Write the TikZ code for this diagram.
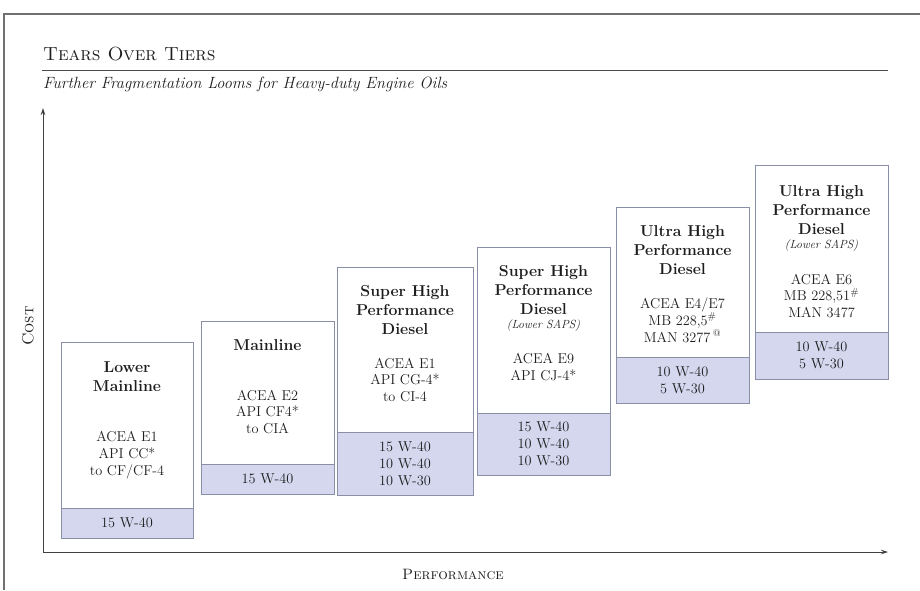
\documentclass[tikz,border=0pt]{standalone}
\usetikzlibrary{arrows.meta}
\definecolor{oilfill}{HTML}{D5D7EF}
\definecolor{edgecol}{HTML}{8A8FA8}
\definecolor{inkcol}{HTML}{1E1E1E}
\definecolor{framecol}{HTML}{707070}
\tikzset{
  tierbox/.style={draw=edgecol, line width=0.7pt, fill=white, inner sep=0pt, anchor=north west},
  oilbox/.style={draw=edgecol, line width=0.7pt, fill=oilfill, inner sep=0pt, anchor=north west},
  tiertitle/.style={text=inkcol, align=center, inner sep=0pt, font=\fontsize{15.8}{19.2}\selectfont\bfseries},
  saps/.style={text=inkcol, align=center, inner sep=0pt, font=\fontsize{11.8}{14}\selectfont\itshape},
  spec/.style={text=inkcol, align=center, inner sep=0pt, font=\fontsize{14.3}{16.8}\selectfont},
  axisline/.style={draw=inkcol!85, line width=0.8pt, -{Stealth[length=7pt,width=4.5pt]}},
  framerule/.style={draw=framecol, line width=1.2pt},
}
\begin{document}
\begin{tikzpicture}[x=1pt,y=-1pt]
\useasboundingbox (0,0) rectangle (920,590);
% frame
\coordinate (fl) at (4,590);
\coordinate (fc) at (4,14);
\coordinate (fr) at (920,14);
\draw[framerule] (fl) -- (fc) -- (fr);
% title
\node[anchor=base west, inner sep=0pt, text=inkcol, font=\fontsize{19}{23}\selectfont\scshape] (title) at (43,60) {Tears Over Tiers};
\coordinate (ruleL) at (42,70);
\coordinate (ruleR) at (888,70);
\draw[draw=inkcol!80, line width=0.6pt] (ruleL) -- (ruleR);
\node[anchor=base west, inner sep=0pt, text=inkcol, font=\fontsize{16.3}{19}\selectfont\itshape] (subtitle) at (43,88) {Further Fragmentation Looms for Heavy-duty Engine Oils};
% axes
\coordinate (origin) at (43,552);
\coordinate (ytop) at (43,108);
\coordinate (xend) at (888,552);
\draw[axisline] (origin) -- (ytop);
\draw[axisline] (origin) -- (xend);
\node[rotate=90, inner sep=0pt, text=inkcol, font=\fontsize{16}{19}\selectfont\scshape] (ylab) at (28,326) {Cost};
\node[inner sep=0pt, text=inkcol, font=\fontsize{15}{18}\selectfont\scshape] (xlab) at (453,574) {Performance};

% Box 1
\node[tierbox, minimum width=132pt, minimum height=196pt] (b1) at (61,342) {};
\node[oilbox, minimum width=132pt, minimum height=30pt] (o1) at (61,508) {};
\node[tiertitle] (t1) at (127,377) {Lower\\Mainline};
\node[spec] (s1) at (127,455) {ACEA E1\\API CC*\\to CF/CF-4};
\node[spec] (v1) at (127,523) {15 W-40};

% Box 2
\node[tierbox, minimum width=133pt, minimum height=173pt] (b2) at (201,321) {};
\node[oilbox, minimum width=133pt, minimum height=30pt] (o2) at (201,464) {};
\node[tiertitle] (t2) at (267.5,345) {Mainline};
\node[spec] (s2) at (267.5,412) {ACEA E2\\API CF4*\\to CIA};
\node[spec] (v2) at (267.5,479) {15 W-40};

% Box 3
\node[tierbox, minimum width=136pt, minimum height=228pt] (b3) at (337,267) {};
\node[oilbox, minimum width=136pt, minimum height=63pt] (o3) at (337,432) {};
\node[tiertitle] (t3) at (405,310) {Super High\\Performance\\Diesel};
\node[spec] (s3) at (405,380) {ACEA E1\\API CG-4*\\to CI-4};
\node[spec] (v3) at (405,464) {15 W-40\\10 W-40\\10 W-30};

% Box 4
\node[tierbox, minimum width=133pt, minimum height=228pt] (b4) at (477,247) {};
\node[oilbox, minimum width=133pt, minimum height=62pt] (o4) at (477,413) {};
\node[tiertitle] (t4) at (543.5,290) {Super High\\Performance\\Diesel};
\node[saps] (p4) at (543.5,326) {(Lower SAPS)};
\node[spec] (s4) at (543.5,367) {ACEA E9\\API CJ-4*};
\node[spec] (v4) at (543.5,444) {15 W-40\\10 W-40\\10 W-30};

% Box 5
\node[tierbox, minimum width=133pt, minimum height=196pt] (b5) at (616,207) {};
\node[oilbox, minimum width=133pt, minimum height=46pt] (o5) at (616,357) {};
\node[tiertitle] (t5) at (682.5,250) {Ultra High\\Performance\\Diesel};
\node[spec] (s5) at (682.5,320) {ACEA E4/E7\\MB 228,5\textsuperscript{\#}\\MAN 3277\,\textsuperscript{@}};
\node[spec] (v5) at (682.5,380) {10 W-40\\5 W-30};

% Box 6
\node[tierbox, minimum width=133pt, minimum height=214pt] (b6) at (755,165) {};
\node[oilbox, minimum width=133pt, minimum height=47pt] (o6) at (755,332) {};
\node[tiertitle] (t6) at (821.5,210) {Ultra High\\Performance\\Diesel};
\node[saps] (p6) at (821.5,246) {(Lower SAPS)};
\node[spec] (s6) at (821.5,296) {ACEA E6\\MB 228,51\textsuperscript{\#}\\MAN 3477};
\node[spec] (v6) at (821.5,355) {10 W-40\\5 W-30};
\end{tikzpicture}
\end{document}
